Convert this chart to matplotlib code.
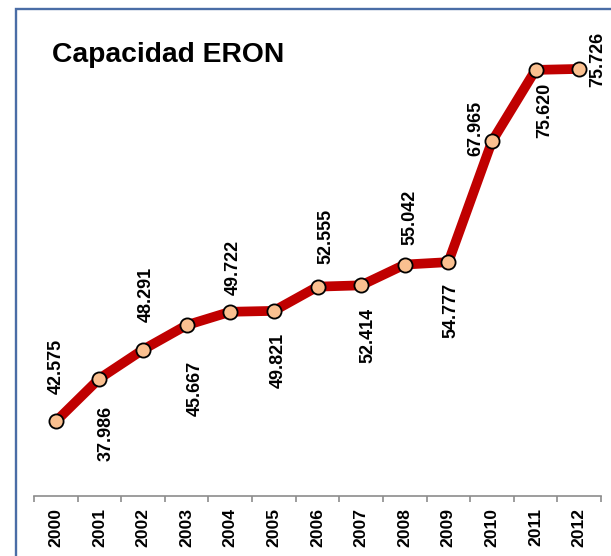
import matplotlib
matplotlib.use("Agg")
import matplotlib.pyplot as plt
from matplotlib.patches import Rectangle

# ---- data ----
years = ["2000", "2001", "2002", "2003", "2004", "2005", "2006",
         "2007", "2008", "2009", "2010", "2011", "2012"]
capacity = [37.986, 42.575, 45.667, 48.291, 49.722, 49.821, 52.414,
            52.555, 54.777, 55.042, 67.965, 75.620, 75.726]
# data-label texts as they appear next to each point in the original
label_texts = ["42.575", "37.986", "48.291", "45.667", "49.722", "49.821",
               "52.555", "52.414", "55.042", "54.777", "67.965", "75.620",
               "75.726"]
title = "Capacidad ERON"

# ---- label placement (pixel offsets from point centre to text centre) ----
label_offsets = [(0.5, 55), (7, -55), (3.3, 55.5), (9, -63.5), (3, 44),
                 (4, -49.5), (8.6, 50.7), (6.7, -50.5), (5, 47.5),
                 (2.3, -48.5), (-16.5, 12.7), (9, -40), (18.4, 9)]

W, H, DPI = 611, 556, 100
plt.rcParams['font.family'] = ['Liberation Sans', 'DejaVu Sans']

fig = plt.figure(figsize=(W / DPI, H / DPI), dpi=DPI)
fig.patch.set_facecolor("white")

# chart-area border (extends beyond right/bottom edge of the crop)
bx0 = 15.5 / W
by1 = 1 - 9 / H
fig.patches.append(Rectangle((bx0, -0.2), 2.0, by1 + 0.2,
                             transform=fig.transFigure, fill=False,
                             edgecolor="#4A6DA6", linewidth=1.7))

ax_left, ax_right, ax_top, ax_bot = 34, 601, 29, 496
ax = fig.add_axes([ax_left / W, 1 - ax_bot / H,
                   (ax_right - ax_left) / W, (ax_bot - ax_top) / H])
ax.set_facecolor("none")

x = list(range(len(years)))
ax.plot(x, capacity, color="#C00000", linewidth=7.0, solid_capstyle="butt",
        solid_joinstyle="round", zorder=2)
ax.plot(x, capacity, linestyle="none", marker="o", markersize=10.2,
        markerfacecolor="#FAC090", markeredgecolor="black",
        markeredgewidth=1.3, zorder=3)

for xi, yi, txt, (dx, dy) in zip(x, capacity, label_texts, label_offsets):
    ax.annotate(txt, (xi, yi), xytext=(dx, dy), textcoords="offset pixels",
                rotation=90, ha="center", va="center", fontsize=13,
                fontweight="bold", color="black", zorder=4)

ax.set_xlim(-0.5, len(years) - 0.5)
ax.set_ylim(30, 80)

for side in ["left", "right", "top"]:
    ax.spines[side].set_visible(False)
ax.spines["bottom"].set_color("#8C8C8C")
ax.spines["bottom"].set_linewidth(1.2)

ax.set_yticks([])
ax.set_xticks(x)
ax.set_xticklabels(years, rotation=90, fontsize=12.6, fontweight="bold")
ax.set_xticks([i - 0.5 for i in range(len(years) + 1)], minor=True)
ax.tick_params(axis="x", which="major", length=0, pad=8.5)
ax.tick_params(axis="x", which="minor", length=4, width=1.2,
               color="#8C8C8C", direction="out")

fig.text(52 / W, 1 - 62 / H, title, fontsize=20.3, fontweight="bold",
         ha="left", va="baseline", color="black")

fig.savefig("out.png", dpi=DPI)
